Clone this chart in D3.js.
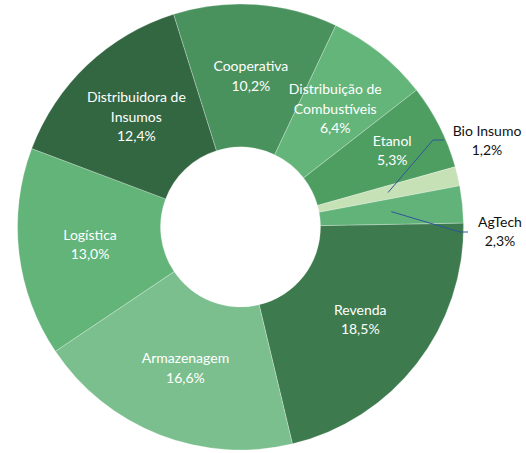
<!DOCTYPE html>
<html>
<head>
<meta charset="utf-8">
<script src="https://cdn.jsdelivr.net/npm/d3@7"></script>
<style>
  body { margin: 0; background: #fff; }
  svg text { font-family: Lato, "Open Sans", sans-serif; }
</style>
</head>
<body>
<div id="chart"></div>
<script>
// donut chart of segments, Excel-like look
const svgWidth = 526;
const svgHeight = 453;

// data, clockwise starting from Revenda (3 o'clock)
const categories = ["Revenda", "Armazenagem", "Logística", "Distribuidora de Insumos", "Cooperativa",
    "Distribuição de Combustíveis", "Etanol", "Bio Insumo", "AgTech"];
const values = [18.5, 16.6, 13.0, 12.4, 10.2, 6.4, 5.3, 1.2, 2.3];
// label lines (how Excel wrapped them)
const labelLines = [["Revenda"], ["Armazenagem"], ["Logística"], ["Distribuidora de", "Insumos"], ["Cooperativa"],
    ["Distribuição de", "Combustíveis"], ["Etanol"], ["Bio Insumo"], ["AgTech"]];
const sliceColors = ["#3d7b4e", "#7cbf8e", "#62b479", "#336742", "#4a925d",
    "#64b57a", "#4e9e62", "#c6e1b6", "#62b379"];

const cx = 240.5, cy = 227;
const outerR = 223, innerR = 80;

const svg = d3.select("#chart")
    .append("svg")
    .attr("width", svgWidth)
    .attr("height", svgHeight)
    .append("g")
    .attr("transform", `translate(${cx},${cy})`);

const data = categories.map((c, i) => ({ name: c, value: values[i], lines: labelLines[i], color: sliceColors[i] }));

// Revenda starts just above 3 o'clock
const start = 89 * Math.PI / 180;
const pie = d3.pie()
    .sort(null)
    .value(d => d.value)
    .startAngle(start)
    .endAngle(start + 2 * Math.PI);

const arc = d3.arc().innerRadius(innerR).outerRadius(outerR);

const arcs = pie(data);

svg.selectAll(".slice")
    .data(arcs)
    .enter()
    .append("path")
    .attr("class", "slice")
    .attr("d", arc)
    .attr("fill", d => d.data.color)
    .attr("stroke", "rgba(255,255,255,0.35)")
    .attr("stroke-width", 0.75);

// label placement
const labelR = (innerR + outerR) / 2;
const outside = ["Bio Insumo", "AgTech"];
// Excel nudges the Etanol label outward a bit
const radiusFix = { "Etanol": 170 };
// leader lines for the small slices: elbow point and text position relative to centre
const leaders = {
    "Bio Insumo": { elbow: [192.5, -87], end: [203.5, -87], text: [246.5, -96] },
    "AgTech": { elbow: [219.5, 5], end: [227.5, 5], text: [259.5, -5] }
};
const lineGap = 19.5;

arcs.forEach(function (d) {
    const mid = (d.startAngle + d.endAngle) / 2;
    const name = d.data.name;
    const pct = d3.format(".1f")(d.data.value).replace(".", ",") + "%";
    const lines = d.data.lines.concat([pct]);
    if (outside.includes(name)) {
        const p0 = [Math.sin(mid) * labelR, -Math.cos(mid) * labelR];
        const L = leaders[name];
        svg.append("polyline")
            .attr("points", [p0, L.elbow, L.end].map(p => p.join(",")).join(" "))
            .attr("fill", "none")
            .attr("stroke", "#2f5597")
            .attr("stroke-width", 1);
        const t = svg.append("text")
            .attr("text-anchor", "middle")
            .attr("font-size", "14px")
            .attr("fill", "#111");
        lines.forEach((ln, i) => {
            t.append("tspan")
                .attr("x", L.text[0])
                .attr("y", L.text[1] + i * lineGap)
                .attr("dy", "0.35em")
                .text(ln);
        });
    } else {
        const r = radiusFix[name] || labelR;
        const x = Math.sin(mid) * r;
        const y = -Math.cos(mid) * r;
        const top = y - (lines.length - 1) * lineGap / 2;
        const t = svg.append("text")
            .attr("text-anchor", "middle")
            .attr("font-size", "14px")
            .attr("fill", "#fff");
        lines.forEach((ln, i) => {
            t.append("tspan")
                .attr("x", x)
                .attr("y", top + i * lineGap)
                .attr("dy", "0.35em")
                .text(ln);
        });
    }
});
</script>
</body>
</html>
